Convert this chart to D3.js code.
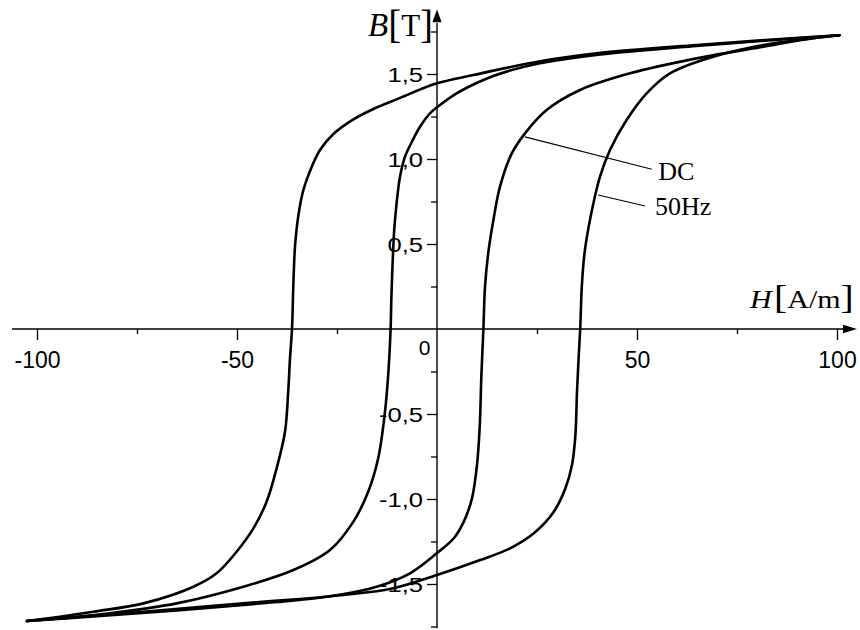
<!DOCTYPE html>
<html><head><meta charset="utf-8">
<script src="https://cdn.jsdelivr.net/npm/d3@7"></script>
<style>body{margin:0;background:#fff} svg{display:block}</style>
</head><body>
<svg id="chart" width="860" height="630"></svg>
<script>
// ---- data ----
const xMajorTicks = [-100, -50, 50, 100];
const xMinorTicks = [-75, -25, 25, 75];
const xTickLabels = ["-100", "-50", "50", "100"];
const yMajorTicks = [-1.5, -1, -0.5, 0.5, 1, 1.5];
const yMinorTicks = [-1.75, -1.25, -0.75, -0.25, 0.25, 0.75, 1.25, 1.75];
const yTickLabels = ["-1,5", "-1,0", "-0,5", "0,5", "1,0", "1,5"];
const originLabel = "0";
const seriesNames = ["DC", "50Hz"];

// 50 Hz loop: [H (A/m), B (T)]
const loop50HzDescending = [
  [100.6, 1.728], [85.75, 1.706], [64.9, 1.671], [39.9, 1.622], [25.75, 1.575],
  [9.1, 1.494], [0, 1.445], [-10.1, 1.351], [-15.9, 1.294], [-20.9, 1.233],
  [-25.9, 1.147], [-29.25, 1.053], [-31.3, 0.955], [-33.4, 0.818], [-34.7, 0.661],
  [-35.5, 0.484], [-35.9, 0.269], [-36.25, 0], [-36.75, -0.173], [-37.2, -0.369],
  [-38, -0.604], [-40.1, -0.82], [-42.6, -1.016], [-45.9, -1.173], [-50.1, -1.31],
  [-55.1, -1.437], [-60.9, -1.516], [-73.4, -1.614], [-85.9, -1.663], [-102.5, -1.718]
];
const loop50HzAscending = [
  [-102.5, -1.718], [-73.4, -1.663], [-48.4, -1.614], [-23.4, -1.565], [-10.9, -1.525],
  [0, -1.447], [10.8, -1.359], [18.3, -1.29], [24.2, -1.202], [29.2, -1.075],
  [32.1, -0.937], [33.75, -0.8], [34.6, -0.624], [35, -0.369], [35.4, -0.173],
  [35.8, 0], [36.2, 0.249], [36.9, 0.45], [38.4, 0.66], [40.75, 0.896],
  [43.25, 1.053], [47.4, 1.229], [52.4, 1.386], [58.25, 1.504], [69.1, 1.602],
  [81.6, 1.671], [100.6, 1.728]
];
// DC loop
const loopDCDescending = [
  [100.6, 1.728], [64.9, 1.665], [39.9, 1.612], [25.75, 1.563], [18.25, 1.52],
  [11.6, 1.465], [4.9, 1.386], [0, 1.304], [-1.75, 1.269], [-4.25, 1.19],
  [-6.3, 1.1], [-8.0, 1.014], [-9.25, 0.896], [-10.1, 0.739], [-10.7, 0.582],
  [-11.1, 0.386], [-11.4, 0.19], [-11.6, 0], [-12.2, -0.27], [-13, -0.486],
  [-14.7, -0.76], [-17.2, -0.957], [-20.9, -1.133], [-26.75, -1.3], [-35.9, -1.418],
  [-48.4, -1.516], [-65.1, -1.614], [-81.75, -1.672], [-102.5, -1.718]
];
const loopDCAscending = [
  [-102.5, -1.718], [-85, -1.69], [-65, -1.655], [-40, -1.606], [-27.6, -1.575],
  [-15.1, -1.516], [-6.75, -1.437], [0, -1.318], [4.2, -1.231], [6.7, -1.133],
  [8.75, -0.996], [10, -0.8], [10.7, -0.565], [11.1, -0.27], [11.6, 0],
  [12, 0.249], [12.8, 0.445], [14.1, 0.641], [15.75, 0.837], [18.7, 1.033],
  [22, 1.151], [27.4, 1.288], [35.75, 1.406], [48.25, 1.504], [64.9, 1.592],
  [81.6, 1.661], [94.1, 1.71], [100.6, 1.728]
];
// annotation leaders (data units) and label anchors
const leaderDC = [[22, 1.13], [53.7, 0.94]];
const leader50Hz = [[40.3, 0.788], [52, 0.724]];
const labelAnchors = [[55.3, 0.876], [54.5, 0.67]];

// ---- drawing ----
const svg = d3.select("#chart");
const x = d3.scaleLinear().domain([-100, 100]).range([37, 837]);
const y = d3.scaleLinear().domain([-1.75, 1.75]).range([626.5, 31.5]);
const ink = "#000";

// x axis
const xAxisG = svg.append("g").attr("transform", `translate(0,${y(0)})`);
xAxisG.append("g").call(d3.axisBottom(x).tickValues(xMinorTicks).tickSize(5).tickFormat(""));
xAxisG.append("g").call(d3.axisBottom(x).tickValues(xMajorTicks).tickSize(11)
  .tickFormat((d, i) => xTickLabels[i]));
xAxisG.selectAll(".domain").remove();
xAxisG.selectAll(".tick line").attr("stroke", ink).attr("stroke-width", 1.3);
xAxisG.selectAll(".tick text")
  .attr("y", 39).attr("dy", null)
  .attr("fill", ink)
  .style("font-family", "'Liberation Sans', Arial, sans-serif")
  .style("font-size", "23px");

// y axis
const yAxisG = svg.append("g").attr("transform", `translate(${x(0)},0)`);
yAxisG.append("g").call(d3.axisLeft(y).tickValues(yMinorTicks).tickSize(6).tickFormat(""));
yAxisG.append("g").call(d3.axisLeft(y).tickValues(yMajorTicks).tickSize(10)
  .tickFormat((d, i) => yTickLabels[i]));
yAxisG.selectAll(".domain").remove();
yAxisG.selectAll(".tick line").attr("stroke", ink).attr("stroke-width", 1.3);
yAxisG.selectAll(".tick text")
  .attr("x", -14 / 1.22).attr("dy", 7.5)
  .attr("transform", "scale(1.22,1)")
  .attr("text-anchor", "end")
  .attr("fill", ink)
  .style("font-family", "'Liberation Sans', Arial, sans-serif")
  .style("font-size", "21px");

// axis lines with arrows
svg.append("line")
  .attr("x1", x(-106.25)).attr("x2", x(102)).attr("y1", y(0)).attr("y2", y(0))
  .attr("stroke", ink).attr("stroke-width", 1.4);
svg.append("path")
  .attr("d", `M${x(105)},${y(0)} L${x(101.5)},${y(0) - 4.2} L${x(101.5)},${y(0) + 4.2} Z`)
  .attr("fill", ink);
svg.append("line")
  .attr("x1", x(0)).attr("x2", x(0)).attr("y1", y(-1.76)).attr("y2", y(1.80))
  .attr("stroke", ink).attr("stroke-width", 1.4);
svg.append("path")
  .attr("d", `M${x(0)},${y(1.88)} L${x(0) - 4.6},${y(1.805)} L${x(0) + 4.6},${y(1.805)} Z`)
  .attr("fill", ink);

// origin label
svg.append("text")
  .attr("x", x(-3.1)).attr("y", y(-0.153))
  .attr("text-anchor", "middle")
  .attr("fill", ink)
  .style("font-family", "'Liberation Sans', Arial, sans-serif")
  .style("font-size", "21px")
  .text(originLabel);

// curves
const line = d3.line().x(d => x(d[0])).y(d => y(d[1])).curve(d3.curveCatmullRom.alpha(0.5));
[loop50HzDescending, loop50HzAscending, loopDCDescending, loopDCAscending].forEach(branch => {
  svg.append("path")
    .attr("d", line(branch))
    .attr("fill", "none")
    .attr("stroke", ink)
    .attr("stroke-width", 2.6)
    .attr("stroke-linejoin", "round")
    .attr("stroke-linecap", "round");
});

// leaders
const straight = d3.line().x(d => x(d[0])).y(d => y(d[1]));
[leaderDC, leader50Hz].forEach(l => {
  svg.append("path").attr("d", straight(l))
    .attr("fill", "none").attr("stroke", ink).attr("stroke-width", 1.1);
});
seriesNames.forEach((name, i) => {
  svg.append("text")
    .attr("x", x(labelAnchors[i][0])).attr("y", y(labelAnchors[i][1]))
    .attr("fill", ink)
    .style("font-family", "'Liberation Serif', 'Times New Roman', serif")
    .style("font-size", "26px")
    .text(name);
});

// axis titles
const serif = "'Liberation Serif', 'Times New Roman', serif";
const bT = svg.append("text")
  .attr("x", 368).attr("y", 36)
  .attr("fill", ink).style("font-family", serif);
bT.append("tspan").style("font-style", "italic").style("font-size", "33px").text("B");
bT.append("tspan").style("font-size", "39px").attr("dy", 2).text("[");
bT.append("tspan").style("font-size", "31px").attr("dy", -2).text("T");
bT.append("tspan").style("font-size", "39px").attr("dy", 2).text("]");

const hT = svg.append("text")
  .attr("transform", "translate(750,308) scale(1.2,1)")
  .attr("fill", ink).style("font-family", serif);
hT.append("tspan").style("font-style", "italic").style("font-size", "25px").text("H");
hT.append("tspan").style("font-size", "33px").attr("dx", 2).text("[");
hT.append("tspan").style("font-size", "25px").text("A/m");
hT.append("tspan").style("font-size", "33px").text("]");
</script>
</body></html>
